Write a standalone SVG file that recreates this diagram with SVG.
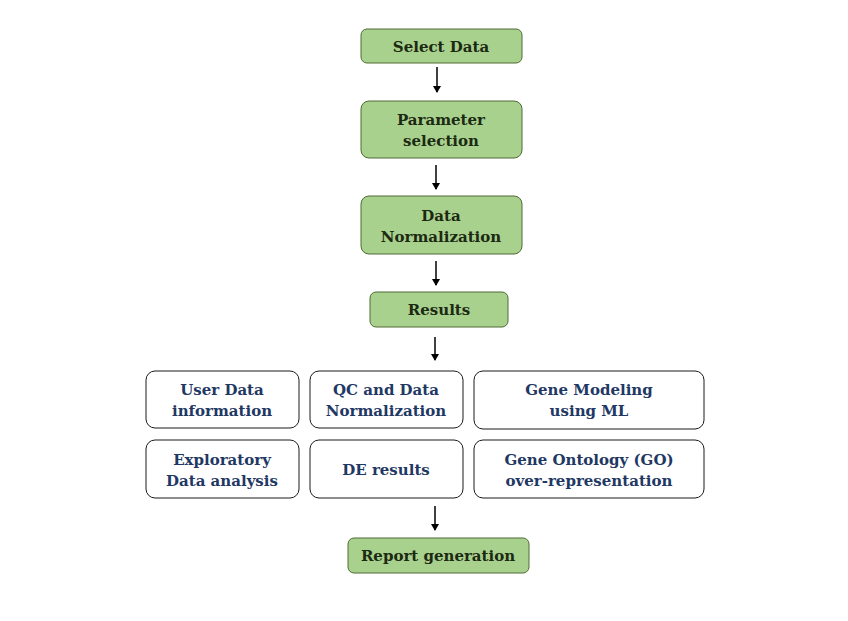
<svg xmlns="http://www.w3.org/2000/svg" width="848" height="621" viewBox="0 0 848 621">
<style>
.g rect{fill:#a9d18e;stroke:#4e6b34;stroke-width:1}
.w rect{fill:#fff;stroke:#1a1a1a;stroke-width:1}
text{font-family:"DejaVu Serif","Liberation Serif",serif;font-weight:bold;font-size:15px;text-anchor:middle}
.g text{fill:#1c2a12}
.w text{fill:#1f3864}
.c line{stroke:#000;stroke-width:1.5;marker-end:url(#ah)}
</style>
<defs>
<marker id="ah" markerWidth="8" markerHeight="8" refX="6" refY="4" orient="auto" markerUnits="userSpaceOnUse">
<path d="M0,0 L7,4 L0,8 z" fill="#000"/>
</marker>
</defs>
<rect width="848" height="621" fill="#fff"/>
<g class="c">
<line x1="437" y1="67" x2="437" y2="92"/>
<line x1="436" y1="165" x2="436" y2="189"/>
<line x1="436" y1="261" x2="436" y2="285"/>
<line x1="435" y1="337" x2="435" y2="360"/>
<line x1="435" y1="506" x2="435" y2="530"/>
</g>
<g id="select" class="g"><rect x="361" y="29" width="161" height="34" rx="6"/><text x="441" y="52">Select Data</text></g>
<g id="param" class="g"><rect x="361" y="101" width="161" height="57" rx="8"/><text x="441" y="125">Parameter</text><text x="441" y="146">selection</text></g>
<g id="norm" class="g"><rect x="361" y="196" width="161" height="58" rx="8"/><text x="441" y="221">Data</text><text x="441" y="242">Normalization</text></g>
<g id="results" class="g"><rect x="370" y="292" width="138" height="35" rx="6"/><text x="439" y="315">Results</text></g>
<g id="user" class="w"><rect x="146" y="371" width="153" height="57" rx="9"/><text x="222" y="395">User Data</text><text x="222" y="416">information</text></g>
<g id="qc" class="w"><rect x="310" y="371" width="153" height="57" rx="9"/><text x="386" y="395">QC and Data</text><text x="386" y="416">Normalization</text></g>
<g id="gene" class="w"><rect x="474" y="371" width="230" height="58" rx="9"/><text x="589" y="395">Gene Modeling</text><text x="589" y="416">using ML</text></g>
<g id="eda" class="w"><rect x="146" y="440" width="153" height="58" rx="9"/><text x="222" y="465">Exploratory</text><text x="222" y="486">Data analysis</text></g>
<g id="de" class="w"><rect x="310" y="440" width="153" height="58" rx="9"/><text x="386" y="475">DE results</text></g>
<g id="go" class="w"><rect x="474" y="440" width="230" height="58" rx="9"/><text x="589" y="465">Gene Ontology (GO)</text><text x="589" y="486">over-representation</text></g>
<g id="report" class="g"><rect x="348" y="538" width="181" height="35" rx="6"/><text x="438" y="561">Report generation</text></g>
</svg>
